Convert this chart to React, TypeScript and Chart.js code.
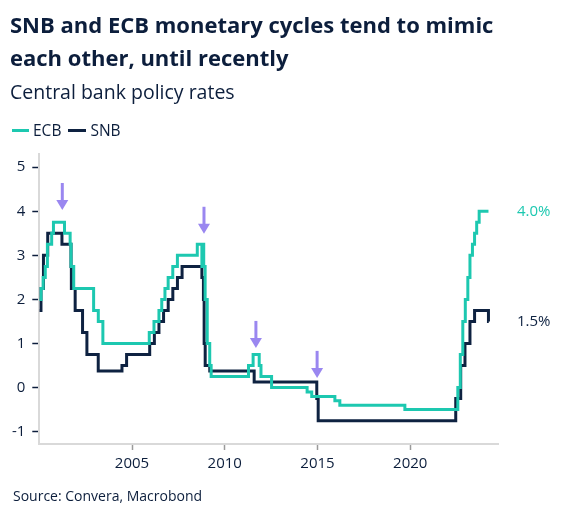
import React, { useEffect, useRef } from "react";
import { Chart, registerables } from "chart.js";

Chart.register(...registerables);

// ---- Data (decimal years, policy rate %) ----
const ecbDates = [
  2000.0, 2000.093, 2000.208, 2000.322, 2000.437, 2000.667, 2000.763, 2001.358, 2001.663, 2001.712,
  2001.856, 2002.929, 2003.181, 2003.428, 2005.929, 2006.184, 2006.452, 2006.603, 2006.775, 2006.948,
  2007.197, 2007.447, 2008.519, 2008.767, 2008.77, 2008.866, 2008.942, 2009.055, 2009.19, 2009.266,
  2011.279, 2011.529, 2011.858, 2011.953, 2012.525, 2014.441, 2014.69, 2015.938, 2016.205, 2019.712,
  2022.567, 2022.701, 2022.836, 2022.971, 2023.107, 2023.222, 2023.356, 2023.47, 2023.584, 2023.718,
  2024.22,
];
const ecbRates = [
  2.0, 2.25, 2.5, 2.75, 3.25, 3.5, 3.75, 3.5, 3.25, 2.75,
  2.25, 1.75, 1.5, 1.0, 1.25, 1.5, 1.75, 2.0, 2.25, 2.5,
  2.75, 3.0, 3.25, 2.75, 3.25, 2.75, 2.0, 1.0, 0.5, 0.25,
  0.5, 0.75, 0.5, 0.25, 0.0, -0.1, -0.2, -0.3, -0.4, -0.5,
  0.0, 0.75, 1.5, 2.0, 2.5, 3.0, 3.25, 3.5, 3.75, 4.0,
  4.0,
];
const snbDates = [
  2000.0, 2000.09, 2000.224, 2000.454, 2001.221, 2001.71, 2001.729, 2001.934, 2002.332, 2002.567,
  2003.178, 2004.458, 2004.707, 2005.953, 2006.205, 2006.452, 2006.701, 2006.951, 2007.2, 2007.449,
  2007.699, 2008.767, 2008.85, 2008.888, 2008.945, 2009.192, 2011.586, 2014.962, 2015.038, 2022.455,
  2022.723, 2022.953, 2023.222, 2023.471, 2024.219, 2024.235,
];
const snbRates = [
  1.75, 2.25, 3.0, 3.5, 3.25, 2.75, 2.25, 1.75, 1.25, 0.75,
  0.375, 0.5, 0.75, 1.0, 1.25, 1.5, 1.75, 2.0, 2.25, 2.5,
  2.75, 2.5, 2.0, 1.0, 0.5, 0.375, 0.125, -0.25, -0.75, -0.25,
  0.5, 1.0, 1.5, 1.75, 1.5, 1.5,
];

const xTickYears = [2005, 2010, 2015, 2020];
const yTickValues = [-1, 0, 1, 2, 3, 4, 5];

// Arrow annotations: year and value at arrow tip
const arrowYears = [2001.24, 2008.88, 2011.68, 2014.98];
const arrowTips = [4.03, 3.49, 0.9, 0.22];

const ECB_COLOR = "#1dc8b0";
const SNB_COLOR = "#0e2241";
const TEXT_COLOR = "#0c1e3c";
const ARROW_COLOR = "#9a87f0";
const FONT = "'Open Sans', 'Noto Sans', sans-serif";

const annotationPlugin = {
  id: "annotations",
  afterDatasetsDraw(chart: any) {
    const { ctx } = chart;
    const xs = chart.scales.x;
    const ys = chart.scales.y;
    ctx.save();
    // arrows
    ctx.fillStyle = ARROW_COLOR;
    ctx.strokeStyle = ARROW_COLOR;
    arrowYears.forEach((yr, i) => {
      const x = xs.getPixelForValue(yr);
      const tip = ys.getPixelForValue(arrowTips[i]);
      const top = tip - 27;
      const headH = 10;
      ctx.lineWidth = 3;
      ctx.beginPath();
      ctx.moveTo(x, top);
      ctx.lineTo(x, tip - headH + 1);
      ctx.stroke();
      ctx.beginPath();
      ctx.moveTo(x - 6, tip - headH);
      ctx.lineTo(x + 6, tip - headH);
      ctx.lineTo(x, tip);
      ctx.closePath();
      ctx.fill();
    });
    // end labels
    ctx.font = `15px ${FONT}`;
    ctx.textAlign = "left";
    ctx.textBaseline = "middle";
    const labels = [
      { v: ecbRates[ecbRates.length - 1], c: ECB_COLOR },
      { v: snbRates[snbRates.length - 1], c: SNB_COLOR },
    ];
    labels.forEach((l) => {
      ctx.fillStyle = l.c;
      ctx.fillText(`${l.v.toFixed(1)}%`, 517, ys.getPixelForValue(l.v));
    });
    ctx.restore();
  },
};

export default function App() {
  const canvasRef = useRef<HTMLCanvasElement | null>(null);

  useEffect(() => {
    if (!canvasRef.current) return;
    const chart = new Chart(canvasRef.current, {
      type: "line",
      data: {
        datasets: [
          {
            label: "ECB",
            data: ecbDates.map((d, i) => ({ x: d, y: ecbRates[i] })),
            borderColor: ECB_COLOR,
            backgroundColor: ECB_COLOR,
            borderWidth: 3,
            pointRadius: 0,
            stepped: "before",
            fill: false,
          },
          {
            label: "SNB",
            data: snbDates.map((d, i) => ({ x: d, y: snbRates[i] })),
            borderColor: SNB_COLOR,
            backgroundColor: SNB_COLOR,
            borderWidth: 3,
            pointRadius: 0,
            stepped: "before",
            fill: false,
          },
        ],
      },
      options: {
        animation: false,
        responsive: false,
        devicePixelRatio: 1,
        layout: { padding: { top: 154, right: 67.7, bottom: 0, left: 0 } },
        plugins: {
          legend: { display: false },
          tooltip: { enabled: false },
          title: { display: false },
        },
        scales: {
          x: {
            type: "linear",
            min: 2000,
            max: 2024.75,
            afterBuildTicks: (s: any) => {
              s.ticks = xTickYears.map((v) => ({ value: v }));
            },
            afterFit: (s: any) => {
              s.height = 77;
            },
            ticks: {
              color: TEXT_COLOR,
              font: { family: FONT, size: 15 },
              padding: 5,
              maxRotation: 0,
              callback: (v: any) => String(v),
            },
            grid: {
              display: true,
              drawOnChartArea: false,
              drawTicks: true,
              tickLength: 6,
              tickColor: "#9a9a9a",
              tickWidth: 1.5,
            },
            border: { display: true, color: "#d9d9d9", width: 2 },
          },
          y: {
            type: "linear",
            min: -1.28,
            max: 5.3,
            afterBuildTicks: (s: any) => {
              s.ticks = yTickValues.map((v) => ({ value: v }));
            },
            afterFit: (s: any) => {
              s.width = 39.3;
            },
            ticks: {
              color: TEXT_COLOR,
              font: { family: FONT, size: 15 },
              padding: 7,
              callback: (v: any) => String(v),
            },
            grid: {
              display: true,
              drawOnChartArea: false,
              drawTicks: true,
              tickLength: 7,
              tickColor: TEXT_COLOR,
              tickWidth: 1.5,
            },
            border: { display: true, color: "#d9d9d9", width: 2 },
          },
        },
      },
      plugins: [annotationPlugin],
    });
    return () => chart.destroy();
  }, []);

  const textBase: React.CSSProperties = {
    position: "absolute",
    fontFamily: FONT,
    color: TEXT_COLOR,
    whiteSpace: "nowrap",
    margin: 0,
  };

  return (
    <div style={{ position: "absolute", left: 0, top: 0, width: 566, height: 521, background: "#fff", overflow: "hidden" }}>
      <canvas ref={canvasRef} width={566} height={521} style={{ position: "absolute", left: 0, top: 0, width: 566, height: 521 }} />
      <div style={{ ...textBase, left: 10, top: 8, fontSize: 22, fontWeight: 700, lineHeight: "33px" }}>
        SNB and ECB monetary cycles tend to mimic
        <br />
        each other, until recently
      </div>
      <div style={{ ...textBase, left: 10, top: 79, fontSize: 19.5, lineHeight: "26px" }}>Central bank policy rates</div>
      <div style={{ ...textBase, left: 12, top: 119, fontSize: 15.5, lineHeight: "22px", display: "flex", alignItems: "center" }}>
        <span style={{ display: "inline-block", width: 17, height: 3, background: ECB_COLOR, marginRight: 4 }} />
        <span>ECB</span>
        <span style={{ display: "inline-block", width: 18, height: 3, background: SNB_COLOR, marginLeft: 7, marginRight: 4 }} />
        <span>SNB</span>
      </div>
      <div style={{ ...textBase, left: 13, top: 486, fontSize: 14, lineHeight: "20px" }}>Source: Convera, Macrobond</div>
    </div>
  );
}
